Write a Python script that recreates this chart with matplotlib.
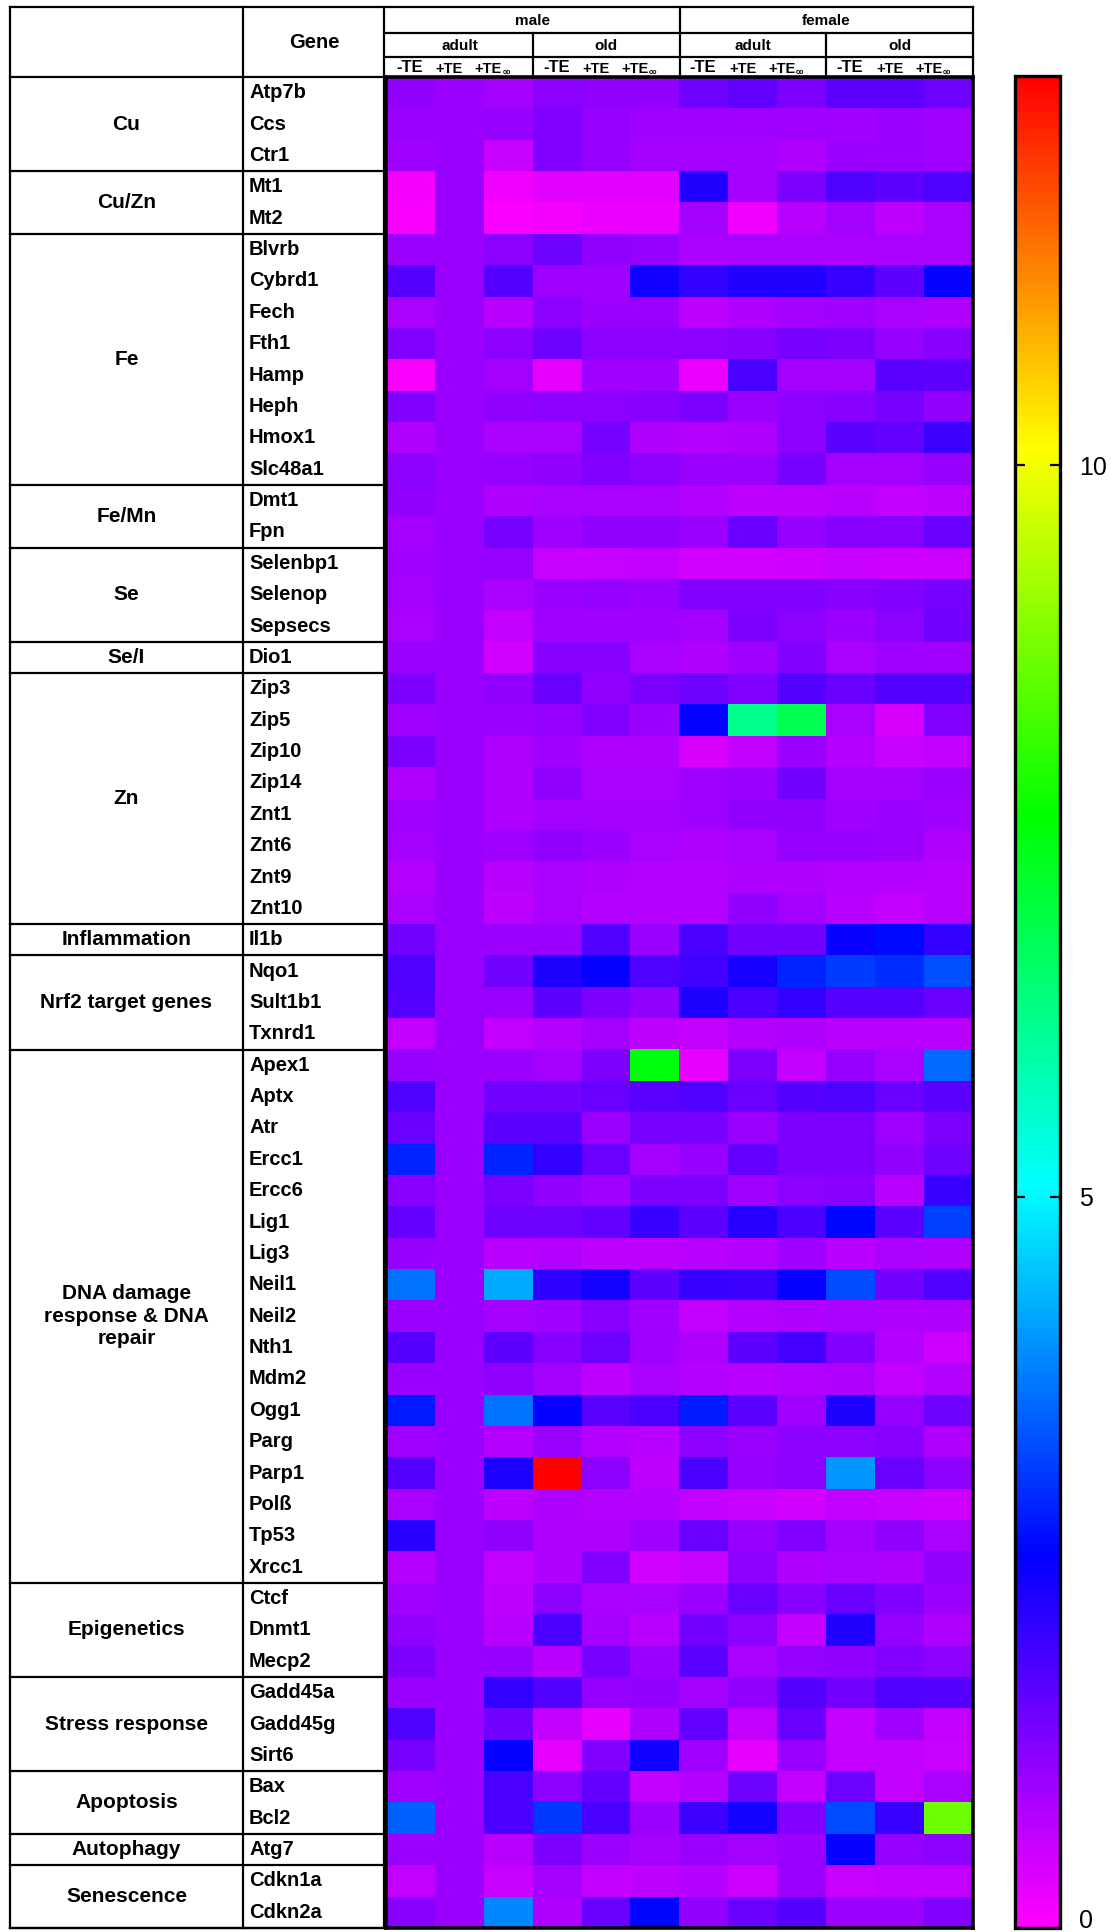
import numpy as np
import matplotlib
matplotlib.use("Agg")
import matplotlib.pyplot as plt
from matplotlib.colors import LinearSegmentedColormap

plt.rcParams['font.family'] = ['Liberation Sans', 'DejaVu Sans']

# ---------------- data ----------------
sexes = ["male", "female"]
ages = ["adult", "old"]
treatments = ["-TE", "+TE", "+TE"]

cu_genes = ["Atp7b", "Ccs", "Ctr1"]
cu_vals = [
    [1.1, 1.0, 0.9, 1.15, 1.1, 1.1, 1.45, 1.55, 1.3, 1.6, 1.6, 1.45],
    [1.0, 1.0, 1.05, 1.25, 1.05, 0.95, 0.95, 0.95, 0.95, 0.95, 1.0, 0.95],
    [0.95, 1.0, 0.55, 1.25, 1.05, 0.9, 0.9, 0.9, 0.8, 1.0, 1.0, 0.95],
]
cuzn_genes = ["Mt1", "Mt2"]
cuzn_vals = [
    [0.1, 1.0, 0.15, 0.3, 0.3, 0.3, 2.2, 0.9, 1.3, 1.75, 1.6, 1.75],
    [0.05, 1.0, 0.05, 0.1, 0.2, 0.2, 0.9, 0.15, 0.7, 0.9, 0.65, 0.85],
]
fe_genes = ["Blvrb", "Cybrd1", "Fech", "Fth1", "Hamp", "Heph", "Hmox1", "Slc48a1"]
fe_vals = [
    [1.0, 1.0, 1.15, 1.45, 1.1, 1.05, 0.85, 0.85, 0.85, 0.85, 0.85, 0.85],
    [1.7, 1.0, 1.7, 0.95, 0.95, 2.4, 2.05, 2.2, 2.2, 2.0, 1.6, 2.5],
    [0.85, 1.0, 0.7, 1.15, 1.0, 1.0, 0.65, 0.8, 0.9, 0.95, 0.85, 0.8],
    [1.25, 1.0, 1.15, 1.45, 1.15, 1.15, 1.15, 1.2, 1.35, 1.3, 1.05, 1.2],
    [0.05, 1.0, 0.9, 0.25, 0.95, 0.95, 0.2, 1.8, 0.9, 0.9, 1.65, 1.6],
    [1.25, 1.0, 1.1, 1.15, 1.15, 1.2, 1.3, 1.0, 1.15, 1.2, 1.35, 1.1],
    [0.8, 1.0, 0.85, 0.85, 1.35, 0.8, 0.75, 0.8, 1.15, 1.65, 1.55, 1.95],
    [1.15, 1.0, 1.05, 1.1, 1.25, 1.15, 1.0, 1.0, 1.35, 0.9, 0.9, 1.05],
]
femn_genes = ["Dmt1", "Fpn"]
femn_vals = [
    [1.1, 1.0, 0.8, 0.85, 0.85, 0.85, 0.75, 0.65, 0.65, 0.7, 0.6, 0.65],
    [0.9, 1.0, 1.35, 0.95, 1.1, 1.1, 1.0, 1.5, 1.05, 1.2, 1.2, 1.5],
]
se_genes = ["Selenbp1", "Selenop", "Sepsecs"]
se_vals = [
    [0.95, 1.0, 1.05, 0.55, 0.55, 0.6, 0.45, 0.45, 0.5, 0.55, 0.5, 0.5],
    [0.9, 1.0, 0.85, 1.0, 1.05, 1.0, 1.25, 1.25, 1.25, 1.2, 1.25, 1.35],
    [0.85, 1.0, 0.6, 0.95, 0.95, 0.95, 0.9, 1.3, 1.15, 1.0, 1.15, 1.4],
]
sei_genes = ["Dio1"]
sei_vals = [
    [1.0, 1.0, 0.45, 1.2, 1.2, 0.85, 0.8, 0.95, 1.25, 0.85, 0.95, 0.95],
]
zn_genes = ["Zip3", "Zip5", "Zip10", "Zip14", "Znt1", "Znt6", "Znt9", "Znt10"]
zn_vals = [
    [1.3, 1.0, 1.1, 1.5, 1.1, 1.3, 1.45, 1.25, 1.7, 1.5, 1.7, 1.7],
    [0.95, 1.0, 1.0, 1.05, 1.25, 1.0, 2.5, 6.2, 6.8, 0.85, 0.4, 1.25],
    [1.3, 1.0, 0.8, 0.95, 0.8, 0.8, 0.4, 0.6, 1.0, 0.75, 0.55, 0.6],
    [0.8, 1.0, 0.8, 1.1, 0.85, 0.85, 0.95, 1.0, 1.4, 0.9, 0.9, 1.0],
    [0.95, 1.0, 0.8, 0.9, 0.9, 0.9, 0.95, 1.1, 1.1, 0.95, 1.0, 0.95],
    [0.9, 1.0, 0.95, 1.1, 1.0, 0.85, 0.8, 0.85, 1.05, 1.05, 1.0, 0.8],
    [0.75, 1.0, 0.7, 0.85, 0.8, 0.75, 0.75, 0.8, 0.8, 0.75, 0.75, 0.7],
    [0.85, 1.0, 0.65, 0.85, 0.75, 0.75, 0.75, 1.1, 0.9, 0.7, 0.6, 0.7],
]
infl_genes = ["Il1b"]
infl_vals = [
    [1.4, 1.0, 1.0, 1.0, 1.75, 1.0, 1.8, 1.4, 1.4, 2.45, 2.65, 2.05],
]
nrf2_genes = ["Nqo1", "Sult1b1", "Txnrd1"]
nrf2_vals = [
    [1.75, 1.0, 1.4, 2.25, 2.5, 1.75, 1.9, 2.3, 2.9, 3.15, 3.0, 3.35],
    [1.7, 1.0, 1.0, 1.6, 1.3, 1.1, 2.25, 1.8, 2.05, 1.7, 1.7, 1.5],
    [0.6, 1.0, 0.6, 0.75, 0.9, 0.65, 0.6, 0.75, 0.8, 0.7, 0.7, 0.7],
]
dna_genes = ["Apex1", "Aptx", "Atr", "Ercc1", "Ercc6", "Lig1", "Lig3", "Neil1",
             "Neil2", "Nth1", "Mdm2", "Ogg1", "Parg", "Parp1", "Polß", "Tp53", "Xrcc1"]
dna_vals = [
    [1.05, 1.0, 1.0, 0.9, 1.3, 7.5, 0.25, 1.3, 0.6, 1.05, 0.85, 3.6],
    [1.75, 1.0, 1.4, 1.4, 1.5, 1.65, 1.75, 1.5, 1.7, 1.75, 1.5, 1.65],
    [1.5, 1.0, 1.65, 1.65, 1.0, 1.35, 1.35, 1.0, 1.3, 1.3, 0.95, 1.3],
    [2.9, 1.0, 2.9, 2.05, 1.5, 0.9, 1.05, 1.55, 1.3, 1.3, 1.1, 1.45],
    [1.2, 1.0, 1.3, 1.1, 0.95, 1.3, 1.3, 0.95, 1.15, 1.2, 0.7, 2.0],
    [1.55, 1.0, 1.45, 1.45, 1.55, 2.0, 1.6, 2.15, 1.8, 2.6, 1.65, 3.2],
    [1.05, 1.0, 0.7, 0.75, 0.65, 0.65, 0.7, 0.75, 0.95, 0.7, 0.85, 0.8],
    [3.7, 1.0, 4.25, 2.1, 2.35, 1.6, 2.0, 1.95, 2.5, 3.3, 1.4, 1.75],
    [1.0, 1.0, 0.9, 0.95, 1.2, 0.95, 0.6, 0.75, 0.8, 0.85, 0.8, 0.8],
    [1.7, 1.0, 1.6, 1.2, 1.45, 0.95, 0.8, 1.6, 1.85, 1.25, 0.75, 0.5],
    [1.0, 1.0, 1.1, 0.9, 0.65, 0.85, 0.75, 0.7, 0.75, 0.8, 0.6, 0.75],
    [2.8, 1.0, 3.7, 2.5, 1.65, 1.8, 2.8, 1.65, 0.95, 2.25, 1.05, 1.45],
    [0.95, 1.0, 0.75, 1.0, 0.75, 0.7, 1.15, 1.0, 1.15, 1.15, 1.2, 0.8],
    [1.7, 1.0, 2.25, 12.66, 1.15, 0.65, 1.8, 1.05, 1.15, 4.05, 1.5, 1.15],
    [0.85, 1.0, 0.65, 0.8, 0.75, 0.75, 0.6, 0.55, 0.45, 0.6, 0.55, 0.5],
    [2.15, 1.0, 1.1, 0.8, 0.8, 0.95, 1.5, 1.05, 1.25, 0.9, 1.1, 0.85],
    [0.75, 1.0, 0.6, 0.8, 1.25, 0.45, 0.55, 1.15, 0.8, 0.85, 0.8, 1.1],
]
epi_genes = ["Ctcf", "Dnmt1", "Mecp2"]
epi_vals = [
    [0.95, 1.0, 0.65, 1.15, 0.85, 0.85, 1.0, 1.5, 1.2, 1.5, 1.25, 1.0],
    [1.1, 1.0, 0.7, 1.8, 0.9, 0.7, 1.4, 1.15, 0.6, 2.2, 1.05, 0.8],
    [1.3, 1.0, 1.05, 0.7, 1.35, 1.0, 1.65, 0.85, 1.05, 1.1, 1.25, 1.15],
]
stress_genes = ["Gadd45a", "Gadd45g", "Sirt6"]
stress_vals = [
    [1.0, 1.0, 2.05, 1.75, 1.05, 1.1, 0.9, 1.1, 1.7, 1.4, 1.75, 1.7],
    [1.75, 1.0, 1.4, 0.6, 0.25, 0.8, 1.55, 0.6, 1.5, 0.6, 0.95, 0.6],
    [1.35, 1.0, 2.5, 0.25, 1.25, 2.4, 0.95, 0.25, 1.0, 0.6, 0.6, 0.55],
]
apop_genes = ["Bax", "Bcl2"]
apop_vals = [
    [0.95, 1.0, 1.8, 1.15, 1.55, 0.6, 0.75, 1.45, 0.6, 1.45, 0.6, 0.85],
    [3.5, 1.0, 1.8, 3.1, 1.8, 1.0, 1.95, 2.35, 1.25, 3.3, 2.0, 8.7],
]
auto_genes = ["Atg7"]
auto_vals = [
    [1.0, 1.0, 0.7, 1.3, 1.0, 0.9, 1.0, 0.9, 1.0, 2.5, 1.05, 1.15],
]
sen_genes = ["Cdkn1a", "Cdkn2a"]
sen_vals = [
    [0.6, 1.0, 0.55, 0.9, 0.6, 0.65, 0.75, 0.5, 1.0, 0.55, 0.6, 0.6],
    [1.2, 1.0, 3.9, 0.8, 1.5, 2.6, 1.1, 1.5, 1.7, 1.0, 1.0, 1.25],
]

groups = [
    ("Cu", cu_genes, cu_vals),
    ("Cu/Zn", cuzn_genes, cuzn_vals),
    ("Fe", fe_genes, fe_vals),
    ("Fe/Mn", femn_genes, femn_vals),
    ("Se", se_genes, se_vals),
    ("Se/I", sei_genes, sei_vals),
    ("Zn", zn_genes, zn_vals),
    ("Inflammation", infl_genes, infl_vals),
    ("Nrf2 target genes", nrf2_genes, nrf2_vals),
    ("DNA damage\nresponse & DNA\nrepair", dna_genes, dna_vals),
    ("Epigenetics", epi_genes, epi_vals),
    ("Stress response", stress_genes, stress_vals),
    ("Apoptosis", apop_genes, apop_vals),
    ("Autophagy", auto_genes, auto_vals),
    ("Senescence", sen_genes, sen_vals),
]

VMIN, VMAX = 0.0, 12.66
cbar_ticks = [0, 5, 10]

# ---------------- layout (pixels) ----------------
W, H, DPI = 1111, 1932, 100
HX0, HX1 = 386, 973      # heatmap left/right
HY0, HY1 = 77, 1928      # heatmap top/bottom
TX0, TXD = 10, 243       # table left, category/gene divider
TOP = 7
R1, R2 = 33, 57          # header row separators
CBX0, CBX1 = 1015, 1060
CBY0, CBY1 = 76, 1928

data = np.array([row for _, _, vl in groups for row in vl])
nrows, ncols = data.shape
rh = (HY1 - HY0) / nrows
cw = (HX1 - HX0) / ncols

cmap = LinearSegmentedColormap.from_list(
    "mbcgyr", ["#ff00ff", "#0000ff", "#00ffff", "#00ff00", "#ffff00", "#ff0000"])

fig = plt.figure(figsize=(W / DPI, H / DPI), dpi=DPI)
fig.patch.set_facecolor("white")

def fr(x0, y0, x1, y1):
    return [x0 / W, 1 - y1 / H, (x1 - x0) / W, (y1 - y0) / H]

ax = fig.add_axes(fr(HX0, HY0, HX1, HY1))
im = ax.imshow(data, cmap=cmap, vmin=VMIN, vmax=VMAX, aspect="auto",
               interpolation="nearest")
ax.set_xticks([])
ax.set_yticks([])
for s in ax.spines.values():
    s.set_linewidth(2.6)
    s.set_color("black")

cax = fig.add_axes(fr(CBX0, CBY0, CBX1, CBY1))
cb = fig.colorbar(im, cax=cax, ticks=cbar_ticks)
cb.outline.set_linewidth(2.4)
cax.tick_params(axis="y", direction="in", length=7, width=1.6, left=True,
                right=True, labelleft=False, labelright=True, labelsize=18, pad=14)
fig.canvas.draw()
for lab in cax.get_yticklabels():
    if lab.get_text() in ("0", "$\\mathdefault{0}$"):
        lab.set_verticalalignment("baseline")

# overlay for table and headers
ov = fig.add_axes([0, 0, 1, 1])
ov.set_xlim(0, W)
ov.set_ylim(H, 0)
ov.axis("off")
ov.patch.set_alpha(0)

LW = 1.6
def hline(y, x0, x1, lw=LW):
    ov.plot([x0, x1], [y, y], color="black", lw=lw, solid_capstyle="projecting")
def vline(x, y0, y1, lw=LW):
    ov.plot([x, x], [y0, y1], color="black", lw=lw, solid_capstyle="projecting")

# left table
vline(TX0, TOP, HY1)
vline(TXD, TOP, HY1)
vline(HX0 - 2, TOP, HY1)
hline(TOP, TX0, HX1)
hline(HY0, TX0, HX0)
hline(HY1, TX0, HX0)

ov.text((TXD + HX0) / 2, (TOP + HY0) / 2, "Gene", ha="center", va="center",
        fontsize=14.5, fontweight="bold")

row = 0
for label, gl, _ in groups:
    y_top = HY0 + row * rh
    y_bot = HY0 + (row + len(gl)) * rh
    hline(y_bot, TX0, HX0)
    ov.text((TX0 + TXD) / 2, (y_top + y_bot) / 2, label, ha="center", va="center",
            fontsize=15, fontweight="bold", linespacing=1.25)
    for i, g in enumerate(gl):
        ov.text(TXD + 6, y_top + (i + 0.5) * rh, g, ha="left", va="center",
                fontsize=14.5, fontweight="bold")
    row += len(gl)

# column headers
hline(R1, HX0, HX1)
hline(R2, HX0, HX1)
vline(HX1, TOP, HY0)
nt = len(treatments)
for si, sx in enumerate(sexes):
    c0 = si * len(ages) * nt
    x0 = HX0 + c0 * cw
    x1 = HX0 + (c0 + len(ages) * nt) * cw
    ov.text((x0 + x1) / 2, (TOP + R1) / 2 + 1, sx, ha="center", va="center",
            fontsize=11, fontweight="bold")
    if si > 0:
        vline(x0, TOP, HY0)
    for ai, ag in enumerate(ages):
        a0 = c0 + ai * nt
        ax0 = HX0 + a0 * cw
        ax1 = HX0 + (a0 + nt) * cw
        ov.text((ax0 + ax1) / 2, (R1 + R2) / 2 + 1, ag, ha="center", va="center",
                fontsize=11, fontweight="bold")
        if ai > 0:
            vline(ax0, R1, HY0)
        offs = [-1, -10, -20]
        for ti, tr in enumerate(treatments):
            cx = HX0 + (a0 + ti + 0.5) * cw + offs[ti]
            if ti == 0:
                ov.text(cx, 67, tr, ha="center", va="center", fontsize=12,
                        fontweight="bold")
            else:
                ov.text(cx, 69, tr, ha="center", va="center", fontsize=10.5,
                        fontweight="bold")
            if ti == 2:
                ov.text(cx + 14, 76, "oo", ha="left", va="bottom", fontsize=5,
                        fontweight="bold")

fig.savefig("out.png", dpi=DPI, facecolor="white")
